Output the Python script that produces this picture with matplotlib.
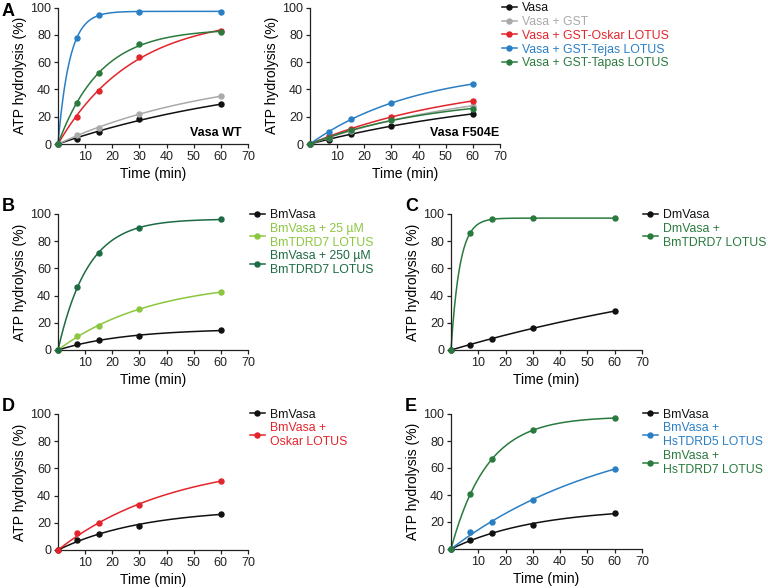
import numpy as np
import matplotlib
matplotlib.use('Agg')
import matplotlib.pyplot as plt
from matplotlib.lines import Line2D

plt.rcParams['font.family'] = ['Liberation Sans', 'DejaVu Sans']

# время (мин)
t = [0, 7, 15, 30, 60]

# A, Vasa WT
a_wt_vasa = [0, 4, 9, 18, 29]
a_wt_gst = [0, 6.5, 12, 22, 35]
a_wt_oskar = [0, 20, 39, 64, 83]
a_wt_tejas = [0, 78, 94.5, 97, 97]
a_wt_tapas = [0, 30, 52, 73, 82]
# A, Vasa F504E
a_mut_vasa = [0, 3, 7, 13.5, 22]
a_mut_gst = [0, 4.5, 9.5, 17.5, 28]
a_mut_oskar = [0, 5.5, 11, 20, 31.5]
a_mut_tejas = [0, 9, 18, 30, 44]
a_mut_tapas = [0, 4.5, 10, 17.5, 26]
a_labels = ['Vasa', 'Vasa + GST', 'Vasa + GST-Oskar LOTUS',
            'Vasa + GST-Tejas LOTUS', 'Vasa + GST-Tapas LOTUS']

# B
b_vasa = [0, 4.5, 7, 10.5, 14.5]
b_25 = [0, 10, 17.5, 30.5, 42.5]
b_250 = [0, 46.5, 71, 89.5, 96.5]
b_labels = ['BmVasa', 'BmVasa + 25 µM\nBmTDRD7 LOTUS', 'BmVasa + 250 µM\nBmTDRD7 LOTUS']

# C
c_vasa = [0, 3.5, 8, 16.5, 28.5]
c_tdrd7 = [0, 86, 96, 97, 97]
c_labels = ['DmVasa', 'DmVasa +\nBmTDRD7 LOTUS']

# D
d_vasa = [0, 7, 12, 18, 26.5]
d_oskar = [0, 12.5, 19.5, 33, 51]
d_labels = ['BmVasa', 'BmVasa +\nOskar LOTUS']

# E
e_vasa = [0, 7, 12, 18, 26.5]
e_tdrd5 = [0, 12.5, 20, 36, 59.5]
e_tdrd7 = [0, 40.5, 66.5, 88, 97]
e_labels = ['BmVasa', 'BmVasa +\nHsTDRD5 LOTUS', 'BmVasa +\nHsTDRD7 LOTUS']

BLACK = '#111111'
GRAY = '#aaaaaa'
RED = '#e3242b'
BLUE = '#2a7fc4'
GREEN = '#2a7a3e'
LGREEN = '#8cc63e'
DGREEN = '#1d6b44'


def fit_curve(x, y):
    # подгонка y = A*(1 - exp(-k t)) по сетке k
    x = np.asarray(x, float)
    y = np.asarray(y, float)
    best = None
    for k in np.logspace(-4, 1, 3000):
        f = 1 - np.exp(-k * x)
        A = (f @ y) / (f @ f)
        err = np.sum((A * f - y) ** 2)
        if best is None or err < best[0]:
            best = (err, A, k)
    tt = np.linspace(0, x.max(), 300)
    return tt, best[1] * (1 - np.exp(-best[2] * tt))


def setup(ax):
    ax.set_xlim(0, 70)
    ax.set_ylim(0, 100)
    ax.set_xticks([10, 20, 30, 40, 50, 60, 70])
    ax.set_yticks([0, 20, 40, 60, 80, 100])
    for s in ['top', 'right']:
        ax.spines[s].set_visible(False)
    for s in ['left', 'bottom']:
        ax.spines[s].set_linewidth(0.9)
        ax.spines[s].set_color('#222222')
    ax.tick_params(length=3, width=0.9, labelsize=9, colors='#222222', pad=2)
    ax.set_xlabel('Time (min)', fontsize=10, labelpad=3)
    ax.set_ylabel('ATP hydrolysis (%)', fontsize=10, labelpad=2)


def draw(ax, series, colors):
    for y, c in zip(series, colors):
        tt, yy = fit_curve(t, y)
        ax.plot(tt, yy, color=c, lw=1.1, clip_on=False)
        ax.plot(t, y, 'o', color=c, ms=3.6, clip_on=False, zorder=3)


def legend(fig, labels, colors, x, y):
    handles = [Line2D([], [], color=c, lw=1.1, marker='o', ms=3.6) for c in colors]
    leg = fig.legend(handles, labels, loc='upper left', bbox_to_anchor=(x, y),
                     frameon=False, fontsize=8.8, handlelength=1.2,
                     handletextpad=0.4, labelspacing=0.15, borderpad=0,
                     borderaxespad=0)
    for txt, c in zip(leg.get_texts(), colors):
        txt.set_color(c)


fig = plt.figure(figsize=(7.68, 5.88), dpi=100)
W, H = 768.0, 588.0


def axes_px(left, right, bottom, top):
    return fig.add_axes([left / W, 1 - bottom / H, (right - left) / W, (bottom - top) / H])


colors_a = [BLACK, GRAY, RED, BLUE, GREEN]

ax1 = axes_px(58, 248, 144, 7.5)
setup(ax1)
draw(ax1, [a_wt_vasa, a_wt_gst, a_wt_oskar, a_wt_tejas, a_wt_tapas], colors_a)
ax1.text(0.965, 0.035, 'Vasa WT', transform=ax1.transAxes, ha='right', va='bottom',
         fontsize=9, fontweight='bold')

ax2 = axes_px(310, 500, 144, 7.5)
setup(ax2)
draw(ax2, [a_mut_vasa, a_mut_gst, a_mut_oskar, a_mut_tejas, a_mut_tapas], colors_a)
ax2.text(0.995, 0.035, 'Vasa F504E', transform=ax2.transAxes, ha='right', va='bottom',
         fontsize=9, fontweight='bold')
legend(fig, a_labels, colors_a, 502 / W, 1 - 2 / H)

ax3 = axes_px(58, 248, 350, 214)
setup(ax3)
draw(ax3, [b_vasa, b_25, b_250], [BLACK, LGREEN, DGREEN])
legend(fig, b_labels, [BLACK, LGREEN, DGREEN], 250 / W, 1 - 209 / H)

ax4 = axes_px(451, 642, 350, 214)
setup(ax4)
draw(ax4, [c_vasa, c_tdrd7], [BLACK, GREEN])
legend(fig, c_labels, [BLACK, GREEN], 643 / W, 1 - 209 / H)

ax5 = axes_px(58, 248, 550, 414)
setup(ax5)
draw(ax5, [d_vasa, d_oskar], [BLACK, RED])
legend(fig, d_labels, [BLACK, RED], 250 / W, 1 - 408.5 / H)

ax6 = axes_px(451, 642, 549, 414)
setup(ax6)
draw(ax6, [e_vasa, e_tdrd5, e_tdrd7], [BLACK, BLUE, GREEN])
legend(fig, e_labels, [BLACK, BLUE, GREEN], 643 / W, 1 - 408.5 / H)

for letter, x, y in [('A', 2, 3), ('B', 2, 198), ('C', 405, 198), ('D', 2, 398), ('E', 405, 398)]:
    fig.text(x / W, 1 - y / H, letter, fontsize=13, fontweight='bold', va='top', ha='left')

fig.savefig('out.png', dpi=100)
